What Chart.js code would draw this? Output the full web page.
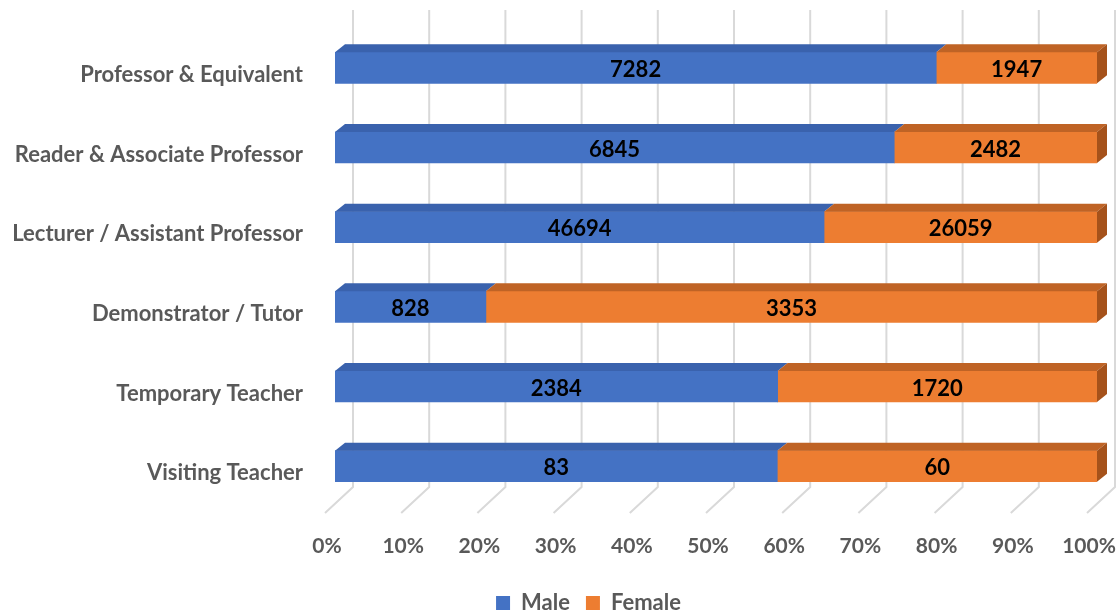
<!DOCTYPE html>
<html>
<head>
<meta charset="utf-8">
<script src="https://cdn.jsdelivr.net/npm/chart.js@4.4.1/dist/chart.umd.min.js"></script>
<style>
  html, body { margin: 0; padding: 0; background: #fff; }
  #wrap { width: 1118px; height: 612px; }
</style>
</head>
<body>
<div id="wrap"><canvas id="chartStaff"></canvas></div>
<script>
const categories = [
    'Professor & Equivalent',
    'Reader & Associate Professor',
    'Lecturer / Assistant Professor',
    'Demonstrator / Tutor',
    'Temporary Teacher',
    'Visiting Teacher'];
const maleCounts = [7282, 6845, 46694, 828, 2384, 83];
const femaleCounts = [1947, 2482, 26059, 3353, 1720, 60];
const tickValues = [0, 10, 20, 30, 40, 50, 60, 70, 80, 90, 100];

// 100% stacked: share of each row
const malePct = maleCounts.map((m, i) => m / (m + femaleCounts[i]) * 100);
const femalePct = femaleCounts.map((f, i) => f / (maleCounts[i] + f) * 100);

const DX = 10, DY = 8;

// fake 3D look: back wall grid, top/side faces, value labels
const bar3d = {
    id: 'bar3d',
    afterLayout(chart) {
        // nudge legend to where the original sits
        const l = chart.legend;
        l.left += 35; l.right += 35;
        l.top += 12; l.bottom += 12;
    },
    beforeDatasetsDraw(chart) {
        const ctx = chart.ctx;
        const x = chart.scales.x;
        const area = chart.chartArea;
        ctx.save();
        ctx.strokeStyle = '#d9d9d9';
        ctx.lineWidth = 2;
        tickValues.forEach(v => {
            const px = x.getPixelForValue(v);
            ctx.beginPath();
            ctx.moveTo(px + 18, area.top - 18);
            ctx.lineTo(px + 18, area.bottom - 19);
            ctx.lineTo(px - 10, area.bottom + 7);
            ctx.stroke();
        });
        ctx.restore();
    },
    afterDatasetsDraw(chart) {
        const ctx = chart.ctx;
        const tops = ['#3a62ad', '#bf6325'];
        const sides = ['#2f5597', '#a5521b'];
        const raw = [maleCounts, femaleCounts];
        ctx.save();
        chart.data.datasets.forEach((ds, di) => {
            const meta = chart.getDatasetMeta(di);
            meta.data.forEach((bar, i) => {
                const left = Math.min(bar.base, bar.x);
                const right = Math.max(bar.base, bar.x);
                const top = bar.y - bar.height / 2;
                const bottom = bar.y + bar.height / 2;
                ctx.fillStyle = tops[di];
                ctx.beginPath();
                ctx.moveTo(left, top);
                ctx.lineTo(left + DX, top - DY);
                ctx.lineTo(right + DX, top - DY);
                ctx.lineTo(right, top);
                ctx.closePath();
                ctx.fill();
                if (di === chart.data.datasets.length - 1) {
                    ctx.fillStyle = sides[di];
                    ctx.beginPath();
                    ctx.moveTo(right, top);
                    ctx.lineTo(right + DX, top - DY);
                    ctx.lineTo(right + DX, bottom - DY);
                    ctx.lineTo(right, bottom);
                    ctx.closePath();
                    ctx.fill();
                }
                ctx.fillStyle = '#000';
                ctx.font = 'bold 22px Lato';
                ctx.textAlign = 'center';
                ctx.textBaseline = 'middle';
                ctx.fillText(String(raw[di][i]), (left + right) / 2, bar.y + 2);
            });
        });
        ctx.restore();
    }
};

function DrawChartStaff() {
    const data = {
        labels: categories,
        datasets: [
            {
                label: 'Male',
                data: malePct,
                backgroundColor: '#4472c4',
                barThickness: 31
            },
            {
                label: 'Female',
                data: femalePct,
                backgroundColor: '#ed7d31',
                barThickness: 31
            }
        ]
    };
    const config = {
        type: 'bar',
        data: data,
        options: {
            indexAxis: 'y',
            responsive: true,
            maintainAspectRatio: false,
            animation: false,
            layout: {
                padding: { left: 10, right: 21, top: 28, bottom: 0 }
            },
            scales: {
                x: {
                    stacked: true,
                    min: 0,
                    max: 100,
                    grid: { display: false, drawTicks: false },
                    border: { display: false },
                    afterBuildTicks: s => { s.ticks = tickValues.map(v => ({ value: v })); },
                    afterFit: s => {
                        s.height = 58;
                        s.paddingLeft = 0;
                        s.paddingRight = 0;
                    },
                    ticks: {
                        callback: v => v + '%',
                        color: '#595959',
                        font: { family: 'Lato', size: 21, weight: 'bold' },
                        padding: 28,
                        labelOffset: -8,
                        maxRotation: 0
                    }
                },
                y: {
                    stacked: true,
                    grid: { display: false, drawTicks: false },
                    border: { display: false },
                    afterFit: s => {
                        s.width = 325;
                        s.paddingTop = 0;
                        s.paddingBottom = 0;
                    },
                    ticks: {
                        color: '#595959',
                        font: { family: 'Lato', size: 22, weight: 'bold' },
                        padding: 32,
                        labelOffset: 7
                    }
                }
            },
            plugins: {
                legend: {
                    position: 'bottom',
                    labels: {
                        boxWidth: 14,
                        boxHeight: 14,
                        color: '#595959',
                        font: { family: 'Lato', size: 22, weight: 'bold', lineHeight: 1 },
                        padding: 16
                    }
                },
                tooltip: { enabled: false }
            }
        },
        plugins: [bar3d]
    };

    const ctx = document.getElementById('chartStaff');
    new Chart(ctx, config);
}

DrawChartStaff();
</script>
</body>
</html>
